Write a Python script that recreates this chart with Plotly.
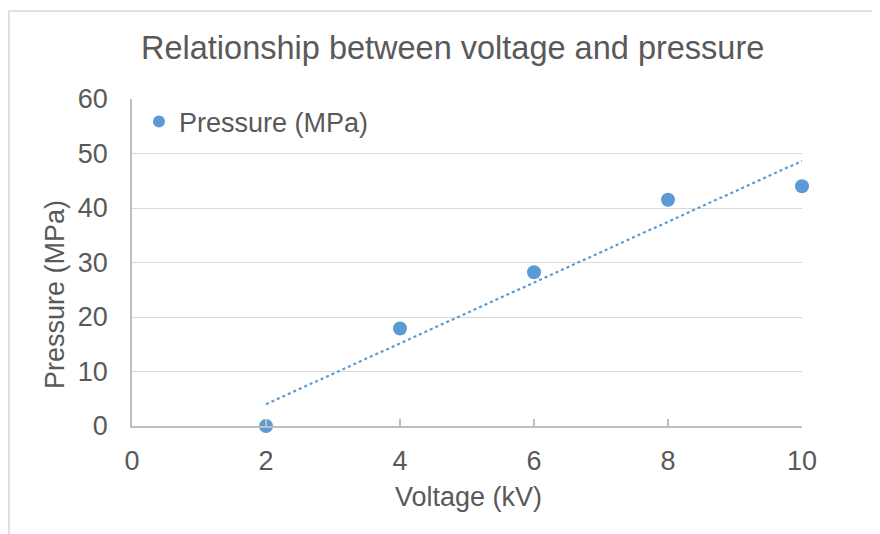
import numpy as np
import plotly.graph_objects as go

voltage_kv = [2, 4, 6, 8, 10]
pressure_mpa = [0.0, 17.9, 28.2, 41.5, 44.0]
series_name = "Pressure (MPa)"
title_text = "Relationship between voltage and pressure"
x_title = "Voltage (kV)"
y_title = "Pressure (MPa)"
x_ticks = [0, 2, 4, 6, 8, 10]
y_ticks = [0, 10, 20, 30, 40, 50, 60]

BLUE = "#5B9BD5"
TXT = "#595959"
GRID = "#D9D9D9"
AX = "#BFBFBF"
FONT = "Liberation Sans, Arial, sans-serif"

# linear trendline fitted to the data
slope, intercept = np.polyfit(voltage_kv, pressure_mpa, 1)
trend_x = [voltage_kv[0], voltage_kv[-1]]
trend_y = [slope * x + intercept for x in trend_x]

fig = go.Figure()
fig.add_trace(go.Scatter(
    x=trend_x, y=trend_y, mode="lines",
    line=dict(color=BLUE, width=2.2, dash="dot"),
    showlegend=False, hoverinfo="skip", cliponaxis=False,
))
fig.add_trace(go.Scatter(
    x=voltage_kv, y=pressure_mpa, mode="markers", name=series_name,
    marker=dict(color=BLUE, size=14),
    cliponaxis=False,
))

OFF = 8  # page body margin
W, H = 880, 534
# plot area in page pixels: x 132..802, y 99..426
L, T = 132 - OFF, 99 - OFF
pw, ph = 670, 327
R = W - L - pw
B = H - T - ph


def px2x(px):
    return (px - OFF - L) / pw


def py2y(py):
    return (T + ph - (py - OFF)) / ph


fig.update_layout(
    width=W, height=H,
    margin=dict(l=L, r=R, t=T, b=B),
    paper_bgcolor="white", plot_bgcolor="white",
    font=dict(family=FONT, color=TXT, size=27),
    showlegend=True,
    legend=dict(
        x=px2x(139), y=py2y(122), xanchor="left", yanchor="middle",
        font=dict(size=27, color=TXT), bgcolor="rgba(0,0,0,0)",
        itemsizing="constant", itemwidth=30,
    ),
    xaxis=dict(
        range=[0, 10], tickvals=x_ticks, ticktext=[str(v) for v in x_ticks],
        showgrid=False, zeroline=False,
        showline=True, linecolor=AX, linewidth=1.6,
        ticks="inside", ticklen=7, tickwidth=1.6, tickcolor=AX,
        tickfont=dict(size=27, color=TXT), ticklabelstandoff=10,
        fixedrange=True,
    ),
    yaxis=dict(
        range=[0, 60], tickvals=y_ticks, ticktext=[str(v) for v in y_ticks],
        showgrid=True, gridcolor=GRID, gridwidth=1.4, zeroline=False,
        showline=True, linecolor=AX, linewidth=1.6,
        ticks="", tickfont=dict(size=27, color=TXT), ticklabelstandoff=17,
        fixedrange=True,
    ),
    annotations=[
        dict(text=title_text, xref="paper", yref="paper",
             x=px2x(452), y=py2y(48), xanchor="center", yanchor="middle",
             showarrow=False, font=dict(size=32.5, color=TXT)),
        dict(text=x_title, xref="paper", yref="paper",
             x=px2x(468), y=py2y(497), xanchor="center", yanchor="middle",
             showarrow=False, font=dict(size=27, color=TXT)),
        dict(text=y_title, xref="paper", yref="paper", textangle=-90,
             x=px2x(55), y=py2y(295), xanchor="center", yanchor="middle",
             showarrow=False, font=dict(size=27, color=TXT)),
    ],
    shapes=[
        dict(type="rect", xref="paper", yref="paper",
             x0=px2x(9), x1=px2x(W + 60), y0=py2y(H + 60), y1=py2y(11),
             line=dict(color=GRID, width=1.6), fillcolor="rgba(0,0,0,0)",
             layer="below"),
    ],
)

fig.write_html("out.html", config={"displayModeBar": False})
